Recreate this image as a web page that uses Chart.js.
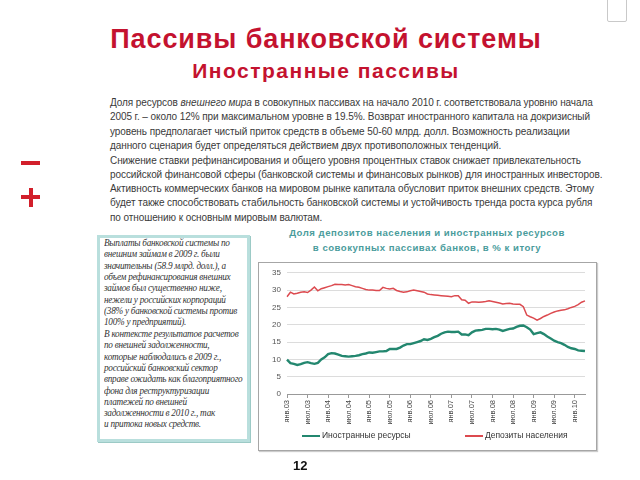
<!DOCTYPE html>
<html>
<head>
<meta charset="utf-8">
<script src="https://cdn.jsdelivr.net/npm/chart.js@4.4.0/dist/chart.umd.min.js"></script>
<style>
    body { margin: 0; width: 640px; height: 480px; background: #fff; position: relative; overflow: hidden; font-family: "Liberation Sans", Arial, sans-serif; }
    .abs { position: absolute; white-space: nowrap; }
    #title { left: 0; width: 652px; top: 24px; text-align: center; color: #c4122f; font-weight: bold; font-size: 27px; letter-spacing: 0.9px; }
    #subtitle { left: 0; width: 652px; top: 59px; text-align: center; color: #c4122f; font-weight: bold; font-size: 21px; letter-spacing: 1.5px; }
    .txt { left: 110px; font-size: 10px; color: #3a3a3a; line-height: 14px; letter-spacing: -0.08px; }
    .minus { left: 21px; top: 161px; width: 19px; height: 4px; background: #d21f2b; }
    .plus-h { left: 21px; top: 195px; width: 19px; height: 4px; background: #d21f2b; }
    .plus-v { left: 28.5px; top: 187.5px; width: 4px; height: 19px; background: #d21f2b; }
    #leftBox { left: 97px; top: 235px; width: 147px; height: 201px; border: 3px solid #b9dfdd; box-shadow: 1px 1px 0 #9ccac6; background: #fff; }
    .ital { left: 104px; font-family: "Liberation Serif", "DejaVu Serif", serif; font-style: italic; font-size: 10.6px; color: #333; line-height: 11px; letter-spacing: -0.3px; transform: scaleX(0.87); transform-origin: left center; }
    .ctitle { left: 258px; width: 338px; text-align: center; color: #4a9c9c; font-weight: bold; font-size: 9.6px; letter-spacing: 0.5px; }
    #chartBox { left: 258px; top: 262px; width: 337px; height: 187px; border: 1px solid #a6a6a6; box-shadow: 1px 1px 1px #ccc; }
    #chartWrap { left: 258px; top: 262px; width: 338px; height: 172px; }
    .legLine { height: 2px; width: 18px; top: 435px; }
    .legTxt { top: 430px; font-size: 8.5px; color: #333; }
    #pageNum { left: 293px; top: 458px; font-weight: bold; font-size: 13px; color: #111; }
    #corner { left: 607px; top: -2px; width: 18px; height: 22px; border: 1px solid #c9c9c9; border-radius: 2px; }
</style>
</head>
<body>
<div id="corner" class="abs"></div>
<div id="title" class="abs">Пассивы банковской системы</div>
<div id="subtitle" class="abs">Иностранные пассивы</div>

<div class="abs txt" style="top:96px">Доля ресурсов <i>внешнего мира</i> в совокупных пассивах на начало 2010 г. соответствовала уровню начала</div>
<div class="abs txt" style="top:110px">2005 г. – около 12% при максимальном уровне в 19.5%. Возврат иностранного капитала на докризисный</div>
<div class="abs txt" style="top:125px">уровень предполагает чистый приток средств в объеме 50-60 млрд. долл. Возможность реализации</div>
<div class="abs txt" style="top:139px">данного сценария будет определяться действием двух противоположных тенденций.</div>
<div class="abs txt" style="top:154px">Снижение ставки рефинансирования и общего уровня процентных ставок снижает привлекательность</div>
<div class="abs txt" style="top:168px">российской финансовой сферы (банковской системы и финансовых рынков) для иностранных инвесторов.</div>
<div class="abs txt" style="top:182px">Активность коммерческих банков на мировом рынке капитала обусловит приток внешних средств. Этому</div>
<div class="abs txt" style="top:196px">будет также способствовать стабильность банковской системы и устойчивость тренда роста курса рубля</div>
<div class="abs txt" style="top:211px">по отношению к основным мировым валютам.</div>

<div class="abs minus"></div>
<div class="abs plus-h"></div>
<div class="abs plus-v"></div>

<div id="leftBox" class="abs"></div>
<div class="abs ital" style="top:237px">Выплаты банковской системы по</div>
<div class="abs ital" style="top:248.3px">внешним займам в 2009 г. были</div>
<div class="abs ital" style="top:259.6px">значительны (58.9 млрд. долл.), а</div>
<div class="abs ital" style="top:270.9px">объем рефинансирования внешних</div>
<div class="abs ital" style="top:282.2px">займов был существенно ниже,</div>
<div class="abs ital" style="top:293.5px">нежели у российских корпораций</div>
<div class="abs ital" style="top:304.8px">(38% у банковской системы против</div>
<div class="abs ital" style="top:316.1px">100% у предприятий).</div>
<div class="abs ital" style="top:328px">В контексте результатов расчетов</div>
<div class="abs ital" style="top:339.3px">по внешней задолженности,</div>
<div class="abs ital" style="top:350.6px">которые наблюдались в 2009 г.,</div>
<div class="abs ital" style="top:361.9px">российский банковский сектор</div>
<div class="abs ital" style="top:373.2px">вправе ожидать как благоприятного</div>
<div class="abs ital" style="top:384.5px">фона для реструктуризации</div>
<div class="abs ital" style="top:395.8px">платежей по внешней</div>
<div class="abs ital" style="top:407.1px">задолженности в 2010 г., так</div>
<div class="abs ital" style="top:418.4px">и притока новых средств.</div>

<div class="abs ctitle" style="top:227px">Доля депозитов населения и иностранных ресурсов</div>
<div class="abs ctitle" style="top:242px">в совокупных пассивах банков, в % к итогу</div>

<div id="chartBox" class="abs"></div>
<div id="chartWrap" class="abs"><canvas id="liabChart" width="338" height="172"></canvas></div>
<div id="leg0Line" class="abs legLine" style="left:302px"></div>
<div id="leg0Txt" class="abs legTxt" style="left:322px"></div>
<div id="leg1Line" class="abs legLine" style="left:465px"></div>
<div id="leg1Txt" class="abs legTxt" style="left:485px"></div>

<div id="pageNum" class="abs">12</div>

<script>
// Data: monthly shares, Jan 2003 - Apr 2010
const monthNames = ['янв', 'фев', 'мар', 'апр', 'май', 'июн', 'июл', 'авг', 'сен', 'окт', 'ноя', 'дек'];
const yearCodes = ['03', '04', '05', '06', '07', '08', '09', '10'];
const monthCount = 88;

const seriesNames = ['Иностранные ресурсы', 'Депозиты населения'];
const seriesColors = ['#23876f', '#dc4a4f'];

const foreignRes = [
    9.9, 8.9, 8.7, 8.4, 8.6, 9.0, 9.2, 8.9, 8.7, 9.0, 10.0, 10.6,
    11.5, 11.8, 11.7, 11.4, 11.0, 10.9, 10.8, 10.9, 11.0, 11.2, 11.5, 11.7,
    12.0, 11.9, 12.1, 12.3, 12.3, 12.4, 13.0, 13.0, 13.0, 13.4, 14.0, 14.4,
    14.4, 14.7, 15.0, 15.3, 15.8, 15.6, 15.9, 16.4, 16.8, 17.4, 17.8, 18.0,
    17.9, 17.9, 18.0, 17.2, 17.2, 17.0, 17.8, 18.3, 18.4, 18.5, 18.8, 18.8,
    18.7, 18.8, 18.6, 18.2, 18.5, 18.8, 18.9, 19.4, 19.7, 19.8, 19.3, 18.6,
    17.3, 17.6, 17.8, 17.3, 16.6, 16.0, 15.4, 15.0, 14.7, 14.2, 13.6, 13.2,
    13.0, 12.6, 12.5, 12.4
];

const householdDep = [
    28.1, 29.4, 28.9, 29.1, 29.4, 29.5, 29.3, 30.0, 30.9, 29.8, 30.4, 30.7,
    31.0, 31.3, 31.7, 31.6, 31.6, 31.5, 31.6, 31.3, 31.0, 30.8, 30.5, 30.2,
    30.0, 30.0, 29.9, 29.9, 30.8, 30.5, 30.3, 30.5, 29.9, 29.6, 29.4, 29.5,
    29.8, 30.0, 29.8, 29.6, 29.4, 28.9, 28.7, 28.6, 28.5, 28.4, 28.3, 28.2,
    28.1, 28.4, 28.4, 27.2, 27.1, 26.2, 26.6, 26.6, 26.5, 26.6, 26.7, 26.9,
    26.7, 26.5, 26.3, 26.0, 26.1, 26.2, 26.0, 25.9, 25.9, 25.2, 22.8, 22.3,
    21.9, 21.3, 21.8, 22.4, 22.8, 23.3, 23.7, 24.0, 24.2, 24.3, 24.6, 25.0,
    25.3, 25.8, 26.5, 26.9
];

// Category labels "янв.03" ... "апр.10"
const categories = [];
yearCodes.forEach(y => {
    monthNames.forEach(m => categories.push(m + '.' + y));
});
categories.length = monthCount;

// HTML legend
seriesNames.forEach((name, i) => {
    document.getElementById('leg' + i + 'Line').style.background = seriesColors[i];
    document.getElementById('leg' + i + 'Txt').textContent = name;
});

const ctx = document.getElementById('liabChart').getContext('2d');
const liabChart = new Chart(ctx, {
    type: 'line',
    data: {
        labels: categories,
        datasets: [{
            label: seriesNames[0],
            data: foreignRes,
            borderColor: seriesColors[0],
            borderWidth: 2.4,
            pointRadius: 0,
            tension: 0
        }, {
            label: seriesNames[1],
            data: householdDep,
            borderColor: seriesColors[1],
            borderWidth: 1.5,
            pointRadius: 0,
            tension: 0
        }]
    },
    options: {
        responsive: false,
        animation: false,
        layout: {
            padding: { top: 9, right: 9, left: 0, bottom: 0 }
        },
        plugins: {
            legend: { display: false },
            tooltip: { enabled: false }
        },
        scales: {
            x: {
                offset: false,
                border: { color: '#999' },
                grid: {
                    drawOnChartArea: false,
                    tickLength: 4,
                    color: c => (c.index % 6 === 0 ? '#999' : 'rgba(0,0,0,0)')
                },
                ticks: {
                    autoSkip: false,
                    minRotation: 90,
                    maxRotation: 90,
                    padding: 2,
                    color: '#444',
                    font: { size: 7.5, family: 'Liberation Sans' },
                    callback: function (value, index) {
                        return index % 6 === 0 ? this.getLabelForValue(value) : '';
                    }
                },
                afterFit: scale => { scale.height = 40; }
            },
            y: {
                min: 0,
                max: 35,
                border: { display: false },
                grid: { color: '#dcdcdc', tickLength: 0 },
                ticks: {
                    stepSize: 5,
                    padding: 6,
                    color: '#555',
                    font: { size: 8, family: 'Liberation Sans' }
                },
                afterFit: scale => { scale.width = 29; }
            }
        }
    }
});
</script>
</body>
</html>
